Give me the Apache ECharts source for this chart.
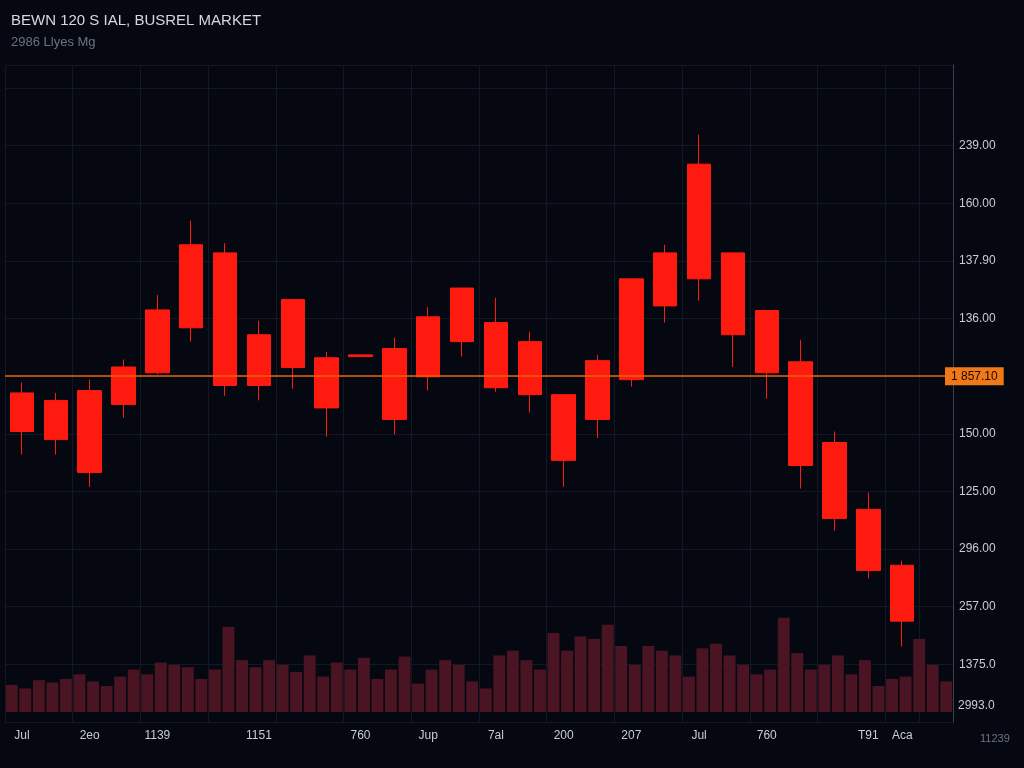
<!DOCTYPE html>
<html><head><meta charset="utf-8">
<script src="https://cdn.jsdelivr.net/npm/echarts@6/dist/echarts.min.js"></script>
<style>html,body{margin:0;padding:0;background:#050811}#c{width:1024px;height:768px}</style>
</head><body><div id="c"></div>
<script>
const xLabels = ['Jul','','2eo','','1139','','','1151','','','760','','Jup','','7al','','200','','207','','Jul','','760','','','T91','Aca',''];
const yLabels = ['', '1375.0','257.00','296.00','125.00','150.00','','136.00','137.90','160.00','239.00'];
// [open, close, low, high]
const candles = [
 [57.1,50.4,46.4,58.9],[55.8,49.0,46.4,57.1],[57.5,43.3,40.8,59.4],[55.1,61.6,52.8,62.9],
 [60.6,71.5,60.3,74.1],[68.4,82.8,66.0,87.0],[81.4,58.4,56.6,83.1],[67.2,58.4,55.8,69.6],
 [61.5,73.3,57.8,73.3],[63.2,54.5,49.5,64.2],[63.7,63.4,63.4,63.7],[64.8,52.5,49.9,66.7],
 [59.9,70.3,57.5,72.0],[66.0,75.3,63.4,75.3],[69.3,58.0,57.3,73.6],[66.0,56.8,53.7,67.7],
 [56.8,45.4,40.8,56.8],[52.5,62.7,49.3,63.7],[59.4,76.9,58.2,76.9],[72.2,81.4,69.3,82.8],
 [76.9,96.8,73.1,101.9],[81.4,67.2,61.6,81.4],[71.4,60.6,56.1,71.4],[62.5,44.5,40.5,66.3],
 [48.5,35.3,33.2,50.4],[36.9,26.3,24.9,39.8],[27.2,17.5,13.1,28.0],'-'
];
const volumes = [23,20,27,25,28,32,26,22,30,36,32,42,40,38,28,36,72,44,38,44,40,34,48,30,42,36,46,28,36,47,24,36,44,40,26,20,48,52,44,36,67,52,64,62,74,56,40,56,52,48,30,54,58,48,40,32,36,80,50,36,40,48,32,44,22,28,30,62,40,26];
const volCats = volumes.map((_, i) => i);
const markValue = 60, markText = '1 857.10';

const chart = echarts.init(document.getElementById('c'));
chart.setOption({
  backgroundColor: '#050811',
  animation: false,
  title: { text: 'BEWN 120 S IAL, BUSREL MARKET', subtext: '2986 Llyes Mg', left: 6, top: 8,
    textStyle: { color: '#d4d8e0', fontSize: 15, fontWeight: 'normal', fontFamily: 'Liberation Sans' },
    subtextStyle: { color: '#6b7284', fontSize: 13 }, itemGap: 8 },
  graphic: [
    { type: 'text', left: 958, top: 700, style: { text: '2993.0', fill: '#c8ccd4', fontSize: 12 } },
    { type: 'text', left: 980, top: 733, style: { text: '11239', fill: '#6b7284', fontSize: 11 } }
  ],
  grid: [
    { left: 5, right: 71, top: 65, bottom: 46 },
    { left: 5, right: 71, top: 600, bottom: 56 }
  ],
  xAxis: [
    { type: 'category', gridIndex: 0, data: xLabels, boundaryGap: true,
      axisLine: { show: false }, axisTick: { show: false },
      axisLabel: { color: '#c8ccd4', fontSize: 12, interval: 0, margin: 8 },
      splitLine: { show: true, interval: 1, lineStyle: { color: '#121824' } } },
    { type: 'category', gridIndex: 1, data: volCats, show: false }
  ],
  yAxis: [
    { type: 'value', gridIndex: 0, position: 'right', min: 0, max: 114, interval: 10,
      axisLine: { show: true, lineStyle: { color: '#3a4050' } }, axisTick: { show: false },
      axisLabel: { color: '#c8ccd4', fontSize: 12, margin: 6, formatter: v => yLabels[Math.round(v / 10)] || '' },
      splitLine: { lineStyle: { color: '#121824' } } },
    { type: 'value', gridIndex: 1, min: 0, max: 95, show: false }
  ],
  series: [
    { type: 'candlestick', xAxisIndex: 0, yAxisIndex: 0, data: candles, barWidth: 24,
      itemStyle: { color: '#ff1a10', color0: '#ff1a10', borderColor: '#ff1a10', borderColor0: '#ff1a10', borderWidth: 1 },
      markLine: { symbol: 'none', silent: true, data: [{ yAxis: markValue }],
        lineStyle: { color: '#e8630a', width: 1.5, type: 'solid' },
        label: { position: 'end', formatter: markText, color: '#1a0a00', backgroundColor: '#f07818',
          padding: [3, 6], fontSize: 12, distance: -8 } } },
    { type: 'bar', xAxisIndex: 1, yAxisIndex: 1, data: volumes, barCategoryGap: '12%',
      itemStyle: { color: '#4a1422' } }
  ]
});
</script></body></html>
